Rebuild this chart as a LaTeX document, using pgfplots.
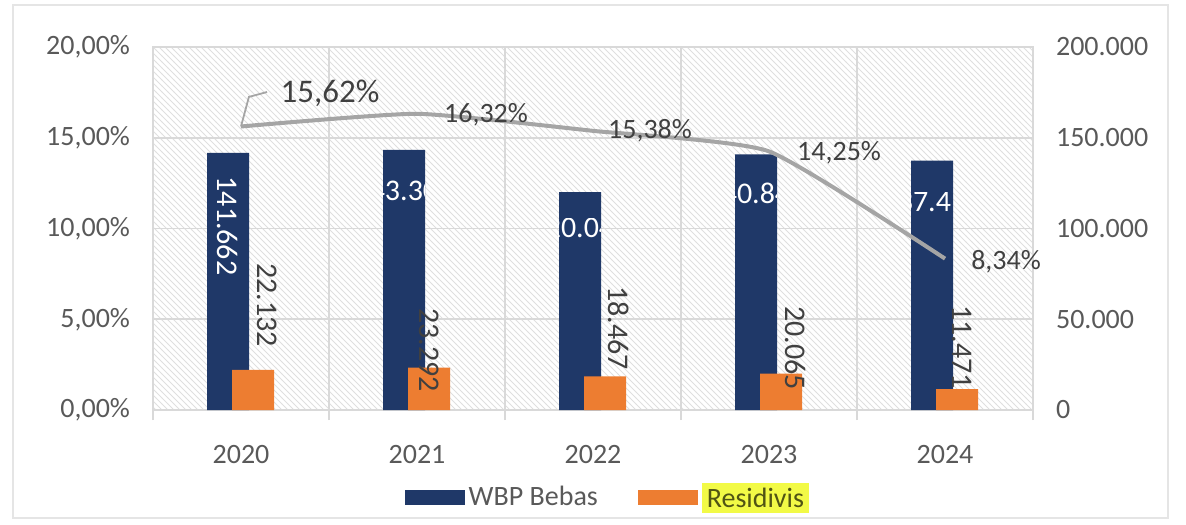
\documentclass[border=0pt]{standalone}
\usepackage{pgfplots}
\pgfplotsset{compat=1.18}
\usepackage{fontspec}
\setmainfont{Carlito}
\usepackage{trimclip}
\usetikzlibrary{patterns}
\definecolor{navy}{RGB}{31,56,104}
\definecolor{orng}{RGB}{237,125,49}
\definecolor{linegray}{RGB}{165,165,165}
\definecolor{txt}{RGB}{89,89,89}
\definecolor{lbl}{RGB}{64,64,64}
\definecolor{hl}{RGB}{242,250,70}
\definecolor{hltxt}{RGB}{80,84,20}
\definecolor{gridc}{RGB}{217,217,217}
\newcommand{\fs}{\fontsize{14}{16}\selectfont}
\newsavebox\lblbox
\newlength\lbltrim
\DeclareRobustCommand\barlbl[1]{\sbox\lblbox{#1}\setlength\lbltrim{\wd\lblbox}\addtolength\lbltrim{-21pt}\setlength\lbltrim{0.5\lbltrim}\clipbox{{\lbltrim} 0pt {\lbltrim} 0pt}{\usebox\lblbox}}
\begin{document}
\begin{tikzpicture}
\useasboundingbox (0,0) rectangle (593pt,262pt);
\draw[gray!20, line width=0.8pt] (6.5pt,3pt) rectangle (584pt,259.5pt);
\begin{axis}[
  at={(76.5pt,57pt)}, anchor=south west,
  width=440pt, height=181.5pt, scale only axis,
  xmin=-0.5, xmax=4.5, ymin=0, ymax=200000,
  axis background/.style={pattern=north west lines, pattern color=gray!25},
  axis line style={gridc, line width=0.8pt},
  xtick={0,1,2,3,4}, xticklabels={2020,2021,2022,2023,2024},
  minor xtick={-0.5,0.5,1.5,2.5,3.5,4.5},
  xminorgrids=true, ymajorgrids=true,
  grid style={gridc, line width=0.8pt},
  minor grid style={gridc, line width=0.8pt},
  major tick length=0pt, minor tick length=5pt,
  tick align=outside, tick style={gridc, line width=0.8pt},
  xtick pos=bottom, ytick pos=right,
  ytick={0,50000,100000,150000,200000},
  yticklabels={0,50.000,100.000,150.000,200.000},
  scaled y ticks=false,
  yticklabel style={anchor=west, xshift=8pt},
  xticklabel style={yshift=-14pt},
  ticklabel style={font=\fs, text=txt},
  /pgf/number format/assume math mode=true,
  clip=false,
  legend style={at={(0.518,-0.24)}, anchor=center, draw=none, fill=none,
    legend columns=2, font=\fs, text=txt,
    /tikz/every even column/.append style={column sep=18pt},
    /tikz/every odd column/.append style={column sep=0pt}},
  legend image code/.code={\fill[#1] (0pt,-3.75pt) rectangle (30pt,3.75pt);},
]
\addplot[ybar, bar width=21pt, bar shift=-6.5pt, fill=navy, draw=none]
  coordinates {(0,141662) (1,143308) (2,120047) (3,140845) (4,137412)};
\addlegendentry{WBP Bebas}
\addplot[ybar, bar width=21pt, bar shift=6pt, fill=orng, draw=none]
  coordinates {(0,22132) (1,23292) (2,18467) (3,20065) (4,11471)};
\addlegendentry{{\setlength{\fboxsep}{2.5pt}\colorbox{hl}{\textcolor{hltxt}{Residivis}}}}
% navy labels
\addplot[forget plot, draw=none, mark=none, nodes near coords, point meta=explicit symbolic,
  every node near coord/.style={anchor=center, rotate=-90, text=white, font=\fontsize{15}{17}\selectfont}]
  coordinates {(-0.074,101377) [141.662]};
\addplot[forget plot, draw=none, mark=none, nodes near coords, point meta=explicit symbolic,
  every node near coord/.style={anchor=center, inner sep=0pt, text=white, font=\fontsize{15}{17}\selectfont}]
  coordinates {(0.926,121212) [\barlbl{143.308}] (1.926,100275) [\barlbl{120.047}] (2.926,119559) [\barlbl{140.845}] (3.926,114601) [\barlbl{137.412}]};
% orange labels
\addplot[forget plot, draw=none, mark=none, nodes near coords, point meta=explicit symbolic,
  every node near coord/.style={anchor=center, rotate=-90, text=lbl, font=\fontsize{15}{17}\selectfont}]
  coordinates {(0.148,57850) [22.132] (1.068,33058) [23.292] (2.148,45179) [18.467] (3.153,34160) [20.065] (4.097,34711) [11.471]};
\end{axis}
\begin{axis}[
  at={(76.5pt,57pt)}, anchor=south west,
  width=440pt, height=181.5pt, scale only axis,
  xmin=-0.5, xmax=4.5, ymin=0, ymax=20,
  hide x axis,
  axis y line*=left,
  axis line style={draw=none},
  major tick length=0pt,
  ytick={0,5,10,15,20},
  yticklabels={{0,00\%},{5,00\%},{10,00\%},{15,00\%},{20,00\%}},
  yticklabel style={anchor=east, xshift=-8pt, font=\fs, text=txt},
  /pgf/number format/assume math mode=true,
  clip=false,
]
\addplot[linegray, line width=2pt, smooth, tension=0.3, mark=none]
  coordinates {(0,15.62) (1,16.32) (2,15.38) (3,14.25) (4,8.34)};
\draw[linegray, line width=0.9pt] (axis cs:0,15.62) -- (axis cs:0.045,17.25) -- (axis cs:0.148,17.52);
\addplot[draw=none, mark=none, nodes near coords, point meta=explicit symbolic,
  every node near coord/.style={anchor=center, text=lbl, font=\fontsize{16.5}{18}\selectfont}]
  coordinates {(0.506,17.47) [{15,62\%}]};
\addplot[draw=none, mark=none, nodes near coords, point meta=explicit symbolic,
  every node near coord/.style={anchor=center, text=lbl, font=\fs}]
  coordinates {(1.392,16.25) [{16,32\%}] (2.324,15.37) [{15,38\%}] (3.398,14.16) [{14,25\%}] (4.347,8.15) [{8,34\%}]};
\end{axis}
\end{tikzpicture}
\end{document}
